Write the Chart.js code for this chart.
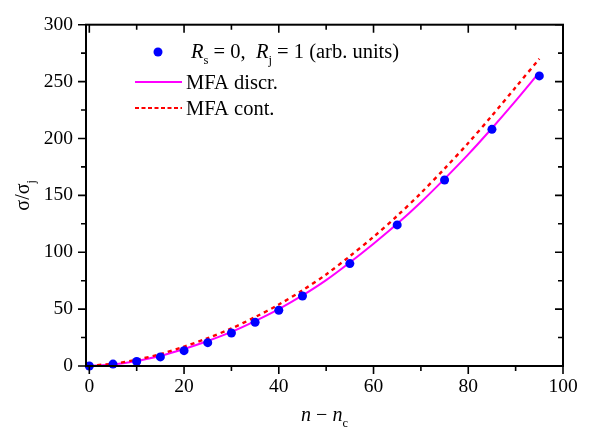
<!DOCTYPE html>
<html>
<head>
<meta charset="utf-8">
<script src="https://cdn.jsdelivr.net/npm/chart.js@4"></script>
<style>
  html, body { margin: 0; padding: 0; background: #fff; }
  #wrap { width: 592px; height: 443px; position: relative; }
</style>
</head>
<body>
<div id="wrap"><canvas id="sigmaChart"></canvas></div>
<script>
// measured conductivity, R_s = 0, R_j = 1
const nPoints = [0, 5, 10, 15, 20, 25, 30, 35, 40, 45, 55, 65, 75, 85, 95];
const sigmaPoints = [0, 1.7, 4, 8, 13.5, 20.5, 29, 38.5, 49, 61.5, 90, 124, 163.5, 208, 255];

// mean-field curves
const nCurve = [0, 5, 10, 15, 20, 25, 30, 35, 40, 45, 50, 55, 60, 65, 70, 75, 80, 85, 90, 95];
const mfaDiscr = [0, 1.3, 4.3, 9, 15, 22, 30, 39.5, 50, 62, 75.5, 91, 107.5, 125, 144, 164.5, 186, 209, 233, 258];
const mfaCont = [0.3, 2, 5.5, 10.5, 17, 24.5, 33, 43, 54, 66.5, 80.5, 96.5, 113.5, 132, 152, 173.5, 196, 220, 245, 270];

const xTicks = [0, 20, 40, 60, 80, 100];
const xMinor = [10, 30, 50, 70, 90];
const yTicks = [0, 50, 100, 150, 200, 250, 300];
const yMinor = [25, 75, 125, 175, 225, 275];

const SERIF = "'Liberation Serif', 'DejaVu Serif', serif";
const toXY = (xs, ys) => xs.map((x, i) => ({ x, y: ys[i] }));

// draws a run of text pieces; sub pieces drop below the baseline
function drawRich(ctx, x, y, parts, size) {
    parts.forEach(p => {
        const fs = p.sub ? size * 0.62 : size;
        ctx.font = `${p.italic ? 'italic ' : ''}${fs}px ${SERIF}`;
        ctx.fillText(p.t, x, p.sub ? y + size * 0.3 : y);
        x += ctx.measureText(p.t).width;
    });
    return x;
}
function richWidth(ctx, parts, size) {
    let w = 0;
    parts.forEach(p => {
        const fs = p.sub ? size * 0.62 : size;
        ctx.font = `${p.italic ? 'italic ' : ''}${fs}px ${SERIF}`;
        w += ctx.measureText(p.t).width;
    });
    return w;
}

const framePlugin = {
    id: 'frame',
    afterDatasetsDraw(chart) {
        const { ctx, chartArea: a, scales: { x, y } } = chart;
        ctx.save();
        ctx.strokeStyle = '#000';
        ctx.lineWidth = 2;
        ctx.strokeRect(a.left, a.top, a.right - a.left, a.bottom - a.top);
        ctx.lineWidth = 1.6;
        ctx.beginPath();
        const tickX = (v, len) => {
            const px = x.getPixelForValue(v);
            ctx.moveTo(px, a.bottom); ctx.lineTo(px, a.bottom + len);
            ctx.moveTo(px, a.top); ctx.lineTo(px, a.top + len);
        };
        const tickY = (v, len) => {
            const py = y.getPixelForValue(v);
            ctx.moveTo(a.left, py); ctx.lineTo(a.left - len, py);
            ctx.moveTo(a.right, py); ctx.lineTo(a.right - len, py);
        };
        xTicks.forEach(v => tickX(v, 8));
        xMinor.forEach(v => tickX(v, 5));
        yTicks.forEach(v => tickY(v, 8));
        yMinor.forEach(v => tickY(v, 5));
        ctx.stroke();

        // axis titles
        ctx.fillStyle = '#000';
        ctx.textBaseline = 'alphabetic';
        const xt = [{ t: 'n', italic: true }, { t: ' \u2212 ' }, { t: 'n', italic: true }, { t: 'c', sub: true }];
        const xw = richWidth(ctx, xt, 20);
        drawRich(ctx, (a.left + a.right) / 2 - xw / 2, 421, xt, 20);

        const yt = [{ t: '\u03c3/\u03c3' }, { t: 'j', sub: true }];
        const yw = richWidth(ctx, yt, 20);
        ctx.translate(29, (a.top + a.bottom) / 2);
        ctx.rotate(-Math.PI / 2);
        drawRich(ctx, -yw / 2, 0, yt, 20);
        ctx.restore();

        // legend
        ctx.save();
        ctx.fillStyle = '#0000ff';
        ctx.beginPath();
        ctx.arc(158, 52, 4.5, 0, Math.PI * 2);
        ctx.fill();
        ctx.fillStyle = '#000';
        drawRich(ctx, 191, 58, [
            { t: 'R', italic: true }, { t: 's', sub: true }, { t: ' = 0,  ' },
            { t: 'R', italic: true }, { t: 'j', sub: true }, { t: ' = 1 (arb. units)' }
        ], 20.5);

        ctx.lineWidth = 2;
        ctx.strokeStyle = '#ff00ff';
        ctx.beginPath(); ctx.moveTo(135, 82); ctx.lineTo(182, 82); ctx.stroke();
        drawRich(ctx, 186, 89, [{ t: 'MFA discr.' }], 20.5);

        ctx.strokeStyle = '#ff0000';
        ctx.lineWidth = 2.2;
        ctx.setLineDash([4, 2.5]);
        ctx.beginPath(); ctx.moveTo(135, 108); ctx.lineTo(182, 108); ctx.stroke();
        ctx.setLineDash([]);
        drawRich(ctx, 186, 115, [{ t: 'MFA cont.' }], 20.5);
        ctx.restore();
    }
};

new Chart(document.getElementById('sigmaChart'), {
    type: 'scatter',
    data: {
        datasets: [
            {
                label: 'points',
                data: toXY(nPoints, sigmaPoints),
                backgroundColor: '#0000ff',
                borderColor: '#0000ff',
                pointRadius: 4.5,
                pointBorderWidth: 0,
                clip: false,
                order: 0
            },
            {
                label: 'MFA discr.',
                data: toXY(nCurve, mfaDiscr),
                showLine: true,
                borderColor: '#ff00ff',
                borderWidth: 2,
                pointRadius: 0,
                tension: 0.3,
                clip: false,
                order: 2
            },
            {
                label: 'MFA cont.',
                data: toXY(nCurve, mfaCont),
                showLine: true,
                borderColor: '#ff0000',
                borderWidth: 2.4,
                borderDash: [4, 4],
                pointRadius: 0,
                tension: 0.3,
                clip: false,
                order: 1
            }
        ]
    },
    options: {
        responsive: true,
        maintainAspectRatio: false,
        animation: false,
        layout: { padding: { left: 0, right: 29, top: 17, bottom: 0 } },
        plugins: { legend: { display: false }, tooltip: { enabled: false } },
        scales: {
            x: {
                type: 'linear',
                min: -0.7,
                max: 100,
                afterBuildTicks: s => { s.ticks = xTicks.map(v => ({ value: v })); },
                afterFit: s => { s.height = 77; },
                grid: { display: false, drawTicks: false },
                border: { display: false },
                ticks: { color: '#000', padding: 9, font: { family: SERIF, size: 19.5 } }
            },
            y: {
                type: 'linear',
                min: 0,
                max: 300,
                afterBuildTicks: s => { s.ticks = yTicks.map(v => ({ value: v })); },
                afterFit: s => { s.width = 86; },
                grid: { display: false, drawTicks: false },
                border: { display: false },
                ticks: { color: '#000', padding: 13, font: { family: SERIF, size: 19.5 } }
            }
        }
    },
    plugins: [framePlugin]
});
</script>
</body>
</html>
